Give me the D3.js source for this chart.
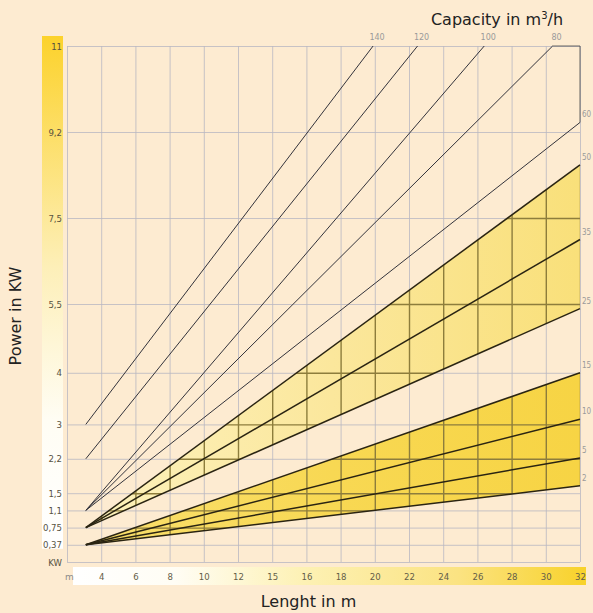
<!DOCTYPE html>
<html>
<head>
<meta charset="utf-8">
<script src="https://cdn.jsdelivr.net/npm/d3@7"></script>
<style>
  html, body { margin: 0; padding: 0; background: #fdebd1; }
  svg { display: block; }
</style>
</head>
<body>
<div id="chart"></div>
<script>
// Eixo Y: potência em kW e a posição de cada valor na grade (em passos)
const powerTicks = [0, 0.37, 0.75, 1.1, 1.5, 2.2, 3, 4, 5.5, 7.5, 9.2, 11];
const powerSteps = [0, 1, 2, 3, 4, 6, 8, 11, 15, 20, 25, 30];
const powerLabels = ["KW", "0,37", "0,75", "1,1", "1,5", "2,2", "3", "4", "5,5", "7,5", "9,2", "11"];

// Eixo X: comprimento em m
const lengthTicks = [4, 6, 8, 10, 12, 14, 16, 18, 20, 22, 24, 26, 28, 30, 32];
const lengthLabels = ["4", "6", "8", "10", "12", "15", "16", "18", "20", "22", "24", "26", "28", "30", "32"];

// Curvas de capacidade (m3/h): ponto inicial e final de cada reta
const capacities = ["140", "120", "100", "80", "60", "50", "35", "25", "15", "10", "5", "2"];
const startLength = [3.1, 3.1, 3.1, 3.1, 3.1, 3.1, 3.1, 3.1, 3.1, 3.1, 3.1, 3.1];
const startPower = [3, 2.2, 1.1, 1.1, 1.1, 0.75, 0.75, 0.75, 0.37, 0.37, 0.37, 0.37];
const endLength = [19.9, 22.5, 26.4, 30.4, 32, 32, 32, 32, 32, 32, 32, 32];
const endPower = [11, 11, 11, 11, 9.4, 8.55, 7.0, 5.4, 4.0, 3.1, 2.22, 1.65];

// Faixas amarelas (curva superior, curva inferior)
const upperBand = ["50", "25"];
const lowerBand = ["15", "2"];
const boldLines = ["50", "35", "25", "15", "10", "5", "2"];

const width = 593;
const height = 613;
const margin = { top: 46, right: 13, bottom: 51, left: 67 };
const plotW = width - margin.left - margin.right;
const plotH = height - margin.top - margin.bottom;

const svg = d3
  .select("#chart")
  .append("svg")
  .attr("width", width)
  .attr("height", height)
  .style("font-family", "'DejaVu Sans', sans-serif");

const defs = svg.append("defs");

// Escalas
const x = d3.scaleLinear().domain([2, 32]).range([margin.left, margin.left + plotW]);
const step = d3.scaleLinear().domain([0, 30]).range([margin.top + plotH, margin.top]);
const y = d3.scaleLinear().domain(powerTicks).range(powerSteps.map(step));

const lines = capacities.map((c, i) => ({
  cap: c,
  x1: x(startLength[i]),
  y1: y(startPower[i]),
  x2: x(endLength[i]),
  y2: y(endPower[i]),
  right: endLength[i] === 32,
}));
const byCap = (c) => lines.find((l) => l.cap === c);

// Gradientes
function gradient(id, horizontal, stops) {
  const g = defs
    .append("linearGradient")
    .attr("id", id)
    .attr("x1", 0)
    .attr("y1", 0)
    .attr("x2", horizontal ? 1 : 0)
    .attr("y2", horizontal ? 0 : 1);
  stops.forEach((s) => g.append("stop").attr("offset", s[0]).attr("stop-color", s[1]));
}
gradient("ybar", false, [[0, "#fcd22b"], [0.45, "#fdefb8"], [0.75, "#fffdf4"], [1, "#ffffff"]]);
gradient("xbar", true, [[0, "#ffffff"], [0.2, "#fffdf4"], [0.45, "#fdf1b4"], [0.75, "#fbe382"], [1, "#f8d22a"]]);
gradient("upper", true, [[0, "#fdf2bd"], [0.5, "#fbe79c"], [1, "#f9e07a"]]);
gradient("lower", true, [[0, "#f9df6e"], [0.5, "#f8d853"], [1, "#f7d444"]]);

// Barras coloridas dos eixos
svg
  .append("rect")
  .attr("x", margin.left - 25)
  .attr("y", margin.top - 10)
  .attr("width", 21)
  .attr("height", y(0.37) - margin.top + 14)
  .attr("fill", "url(#ybar)");

svg
  .append("rect")
  .attr("x", x(2.35))
  .attr("y", margin.top + plotH + 5)
  .attr("width", x(32.35) - x(2.35))
  .attr("height", 18)
  .attr("fill", "url(#xbar)");

// Grade
function drawGrid(parent, color, strokeWidth) {
  parent
    .append("g")
    .attr("transform", `translate(0,${margin.top + plotH})`)
    .call(d3.axisBottom(x).tickValues([2].concat(lengthTicks)).tickSize(-plotH).tickFormat(""))
    .call((g) => g.select(".domain").remove())
    .call((g) => g.selectAll("line").attr("stroke", color).attr("stroke-width", strokeWidth));
  parent
    .append("g")
    .attr("transform", `translate(${margin.left},0)`)
    .call(d3.axisLeft(y).tickValues(powerTicks).tickSize(-plotW).tickFormat(""))
    .call((g) => g.select(".domain").remove())
    .call((g) => g.selectAll("line").attr("stroke", color).attr("stroke-width", strokeWidth));
}
drawGrid(svg, "#b9b7c2", 0.8);

// Faixas amarelas com a grade escurecida por cima
function drawBand(id, pair, fill) {
  const a = byCap(pair[0]);
  const b = byCap(pair[1]);
  const pts = [[a.x1, a.y1], [a.x2, a.y2], [b.x2, b.y2], [b.x1, b.y1]];
  const path = "M" + pts.join("L") + "Z";
  svg.append("path").attr("d", path).attr("fill", fill);
  defs.append("clipPath").attr("id", id).append("path").attr("d", path);
  drawGrid(svg.append("g").attr("clip-path", `url(#${id})`), "#8d7d3c", 1.4);
}
drawBand("clipUpper", upperBand, "url(#upper)");
drawBand("clipLower", lowerBand, "url(#lower)");

// Moldura no canto superior direito (curva de 80 até a de 60)
const l80 = byCap("80");
const l60 = byCap("60");
svg
  .append("path")
  .attr("d", `M${l80.x2},${l80.y2}H${x(32)}V${l60.y2}`)
  .attr("fill", "none")
  .attr("stroke", "#555")
  .attr("stroke-width", 0.9);

// Retas de capacidade
svg
  .append("g")
  .selectAll("line")
  .data(lines)
  .enter()
  .append("line")
  .attr("x1", (d) => d.x1)
  .attr("y1", (d) => d.y1)
  .attr("x2", (d) => d.x2)
  .attr("y2", (d) => d.y2)
  .attr("stroke", (d) => (boldLines.includes(d.cap) ? "#2a2412" : "#33333b"))
  .attr("stroke-width", (d) => (boldLines.includes(d.cap) ? 1.5 : 1));

// Rótulos das retas (os da direita apertados para caber na borda)
svg
  .append("g")
  .selectAll("text")
  .data(lines)
  .enter()
  .append("text")
  .attr("x", (d) => (d.right ? d.x2 + 2 : d.x2 + 4))
  .attr("y", (d) => (d.right ? d.y2 - 5 : margin.top - 6))
  .attr("text-anchor", (d) => (d.right ? "start" : "middle"))
  .attr("font-size", "8px")
  .style("font-family", (d) => (d.right ? "'DejaVu Sans Condensed', sans-serif" : null))
  .attr("fill", "#9a9a9a")
  .text((d) => d.cap);

// Rótulos do eixo Y
svg
  .append("g")
  .attr("transform", `translate(${margin.left - 4},0)`)
  .call(d3.axisLeft(y).tickValues(powerTicks).tickSize(0).tickPadding(1).tickFormat((d, i) => powerLabels[i]))
  .call((g) => g.select(".domain").remove())
  .call((g) => g.selectAll("text").attr("font-size", "9.5px").attr("fill", "#57523f").style("font-family", "'DejaVu Sans Condensed', sans-serif"));

// Rótulos do eixo X
svg
  .append("g")
  .attr("transform", `translate(0,${margin.top + plotH + 14})`)
  .call(d3.axisBottom(x).tickValues(lengthTicks).tickSize(0).tickPadding(0).tickFormat((d, i) => lengthLabels[i]))
  .call((g) => g.select(".domain").remove())
  .call((g) => g.selectAll("text").attr("dy", "0").attr("y", 4).attr("font-size", "9.5px").attr("fill", "#645e48").style("font-family", "'DejaVu Sans Condensed', sans-serif"));

svg
  .append("text")
  .attr("x", margin.left - 2)
  .attr("y", margin.top + plotH + 18)
  .attr("font-size", "9px")
  .attr("fill", "#8a8a8a")
  .text("m");

// Títulos
const capTitle = svg
  .append("text")
  .attr("x", 497)
  .attr("y", 25)
  .attr("text-anchor", "middle")
  .attr("font-size", "16px")
  .attr("fill", "#222");
capTitle.append("tspan").text("Capacity in m");
capTitle.append("tspan").attr("font-size", "10px").attr("dy", "-6").text("3");
capTitle.append("tspan").attr("dy", "6").text("/h");

svg
  .append("text")
  .attr("x", margin.left + plotW / 2 - 15)
  .attr("y", 607)
  .attr("text-anchor", "middle")
  .attr("font-size", "16px")
  .attr("fill", "#222")
  .text("Lenght in m");

svg
  .append("text")
  .attr("transform", "translate(21,316) rotate(-90)")
  .attr("text-anchor", "middle")
  .attr("font-size", "16px")
  .attr("fill", "#222")
  .text("Power in KW");
</script>
</body>
</html>
